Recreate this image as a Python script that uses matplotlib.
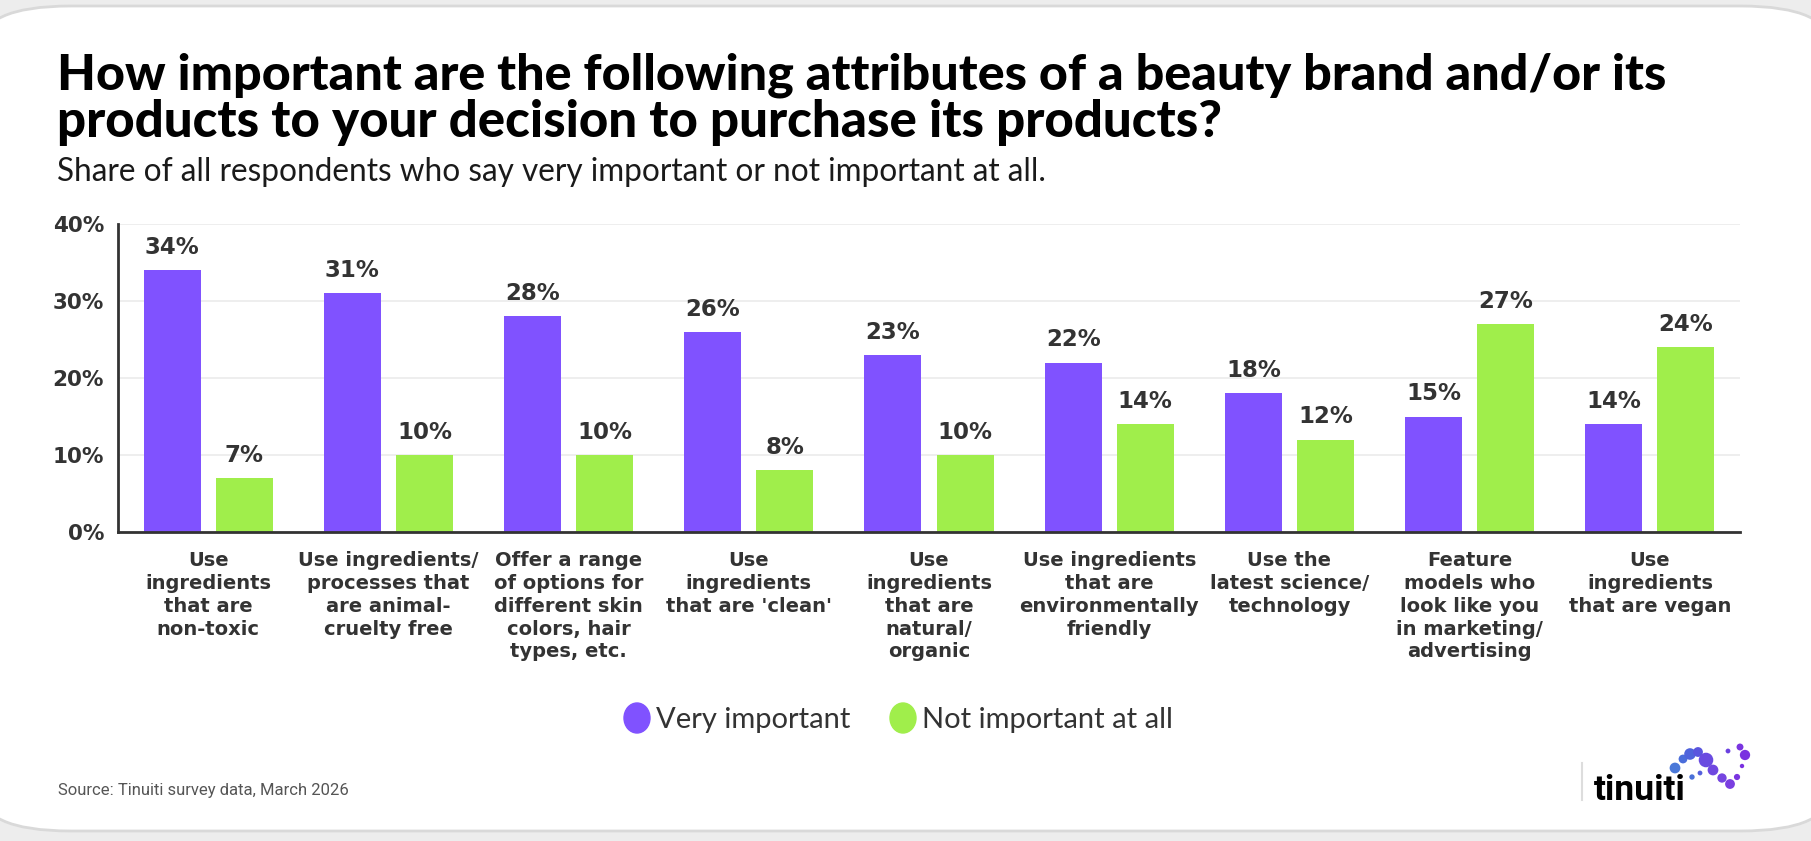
import numpy as np
import matplotlib.pyplot as plt
from matplotlib.patches import FancyBboxPatch, Ellipse

# data
categories = [
    "Use\ningredients\nthat are\nnon-toxic",
    "Use ingredients/\nprocesses that\nare animal-\ncruelty free",
    "Offer a range\nof options for\ndifferent skin\ncolors, hair\ntypes, etc.",
    "Use\ningredients\nthat are 'clean'",
    "Use\ningredients\nthat are\nnatural/\norganic",
    "Use ingredients\nthat are\nenvironmentally\nfriendly",
    "Use the\nlatest science/\ntechnology",
    "Feature\nmodels who\nlook like you\nin marketing/\nadvertising",
    "Use\ningredients\nthat are vegan",
]
very_important = [34, 31, 28, 26, 23, 22, 18, 15, 14]
not_important = [7, 10, 10, 8, 10, 14, 12, 27, 24]
series_names = ["Very important", "Not important at all"]
yticks = [0, 10, 20, 30, 40]

PURPLE = "#8052FF"
GREEN = "#A0EE4B"
DARK = "#333333"

W, H = 1811, 841
fig = plt.figure(figsize=(W / 100, H / 100), dpi=100)
fig.patch.set_facecolor("#ededed")

# card background
card = FancyBboxPatch((-20 / W, 10 / H), (W + 40) / W, (H - 16) / H,
                      boxstyle="round,pad=0,rounding_size=0.05",
                      transform=fig.transFigure, facecolor="white",
                      edgecolor="#d9d9d9", linewidth=2, zorder=-5)
fig.patches.append(card)

renderer = fig.canvas.get_renderer()


def fit_text(x, y, s, target_w, size, **kw):
    t = fig.text(x / W, 1 - y / H, s, fontsize=size, **kw)
    w = t.get_window_extent(renderer).width
    t.set_fontsize(size * target_w / w)
    return t


# title + subtitle
fit_text(57, 90, "How important are the following attributes of a beauty brand and/or its",
         1605, 30, fontweight="black", family="Lato", color="black", va="baseline")
fit_text(57, 137, "products to your decision to purchase its products?",
         1165, 30, fontweight="black", family="Lato", color="black", va="baseline")
fit_text(57, 181, "Share of all respondents who say very important or not important at all.",
         985, 18, fontweight="normal", family="Lato", color="#1a1a1a", va="baseline")

ax = fig.add_axes([118 / W, 1 - 532 / H, (1740 - 118) / W, (532 - 224) / H], zorder=2)
x = np.arange(len(categories))
bw = 0.316
b1 = ax.bar(x - 0.2, very_important, bw, color=PURPLE, zorder=3)
b2 = ax.bar(x + 0.2, not_important, bw, color=GREEN, zorder=3)

for bars, vals in ((b1, very_important), (b2, not_important)):
    for rect, v in zip(bars, vals):
        ax.annotate(f"{v}%", (rect.get_x() + rect.get_width() / 2, v),
                    xytext=(0, 8), textcoords="offset points",
                    ha="center", va="bottom", fontsize=16.5, fontweight="bold",
                    color=DARK, family="DejaVu Sans")

ax.set_xlim(-0.5, 8.5)
ax.set_ylim(0, 40)
ax.set_yticks(yticks)
ax.set_yticklabels([f"{v}%" for v in yticks], fontsize=15.5, fontweight="bold", color=DARK)
ax.set_xticks(x)
ax.set_xticklabels(categories, fontsize=14, fontweight="bold", color=DARK,
                   linespacing=1.25, va="top")
ax.tick_params(axis="both", length=0)
ax.tick_params(axis="y", pad=10)
ax.tick_params(axis="x", pad=14)
ax.set_facecolor("none")
ax.grid(axis="y", color="#ebebeb", linewidth=1.2, zorder=0)
for side in ("top", "right"):
    ax.spines[side].set_visible(False)
for side in ("left", "bottom"):
    ax.spines[side].set_color(DARK)
    ax.spines[side].set_linewidth(2)
    ax.spines[side].set_zorder(4)

# legend
for cx, col, name in ((637, PURPLE, series_names[0]), (903, GREEN, series_names[1])):
    fig.patches.append(Ellipse((cx / W, 1 - 718 / H), 26 / W, 30 / H,
                               transform=fig.transFigure, color=col))
    fig.text((cx + 19) / W, 1 - 720 / H, name, fontsize=21, family="Lato",
             color=DARK, va="center", ha="left")

# footer
fig.text(58 / W, 1 - 795 / H, "Source: Tinuiti survey data, March 2026", fontsize=12,
         family="Roboto", color="#555555", va="baseline")

# logo
fig.add_artist(plt.Line2D([1582 / W, 1582 / W], [1 - 763 / H, 1 - 800 / H],
                          color="#dddddd", linewidth=1.5))
fit_text(1594, 800, "tinuiti", 92, 26, fontweight="bold", family="Roboto",
         color="black", va="baseline")
dots_x = [1675, 1683, 1690, 1698, 1706, 1713, 1722, 1730, 1737, 1742, 1745, 1740, 1728, 1692, 1700]
dots_y = [768, 759, 754, 752, 760, 770, 778, 784, 777, 766, 755, 747, 751, 777, 773]
dots_c = ["#4a78d8", "#4a6ddb", "#4f63dc", "#5a55de", "#6a4be0", "#6f48e0", "#7545e0",
          "#7a3fe0", "#7a35e0", "#7a30e0", "#7a30e0", "#7a35e0", "#6a40e0", "#4a70d8", "#5560dc"]
dots_s = [60, 40, 70, 50, 110, 60, 45, 50, 20, 10, 55, 25, 12, 15, 12]
sax = fig.add_axes([0, 0, 1, 1], zorder=5)
sax.set_xlim(0, W)
sax.set_ylim(H, 0)
sax.axis("off")
sax.scatter(dots_x, dots_y, s=dots_s, c=dots_c, marker="o", linewidths=0)

fig.savefig("out.png", dpi=100)
